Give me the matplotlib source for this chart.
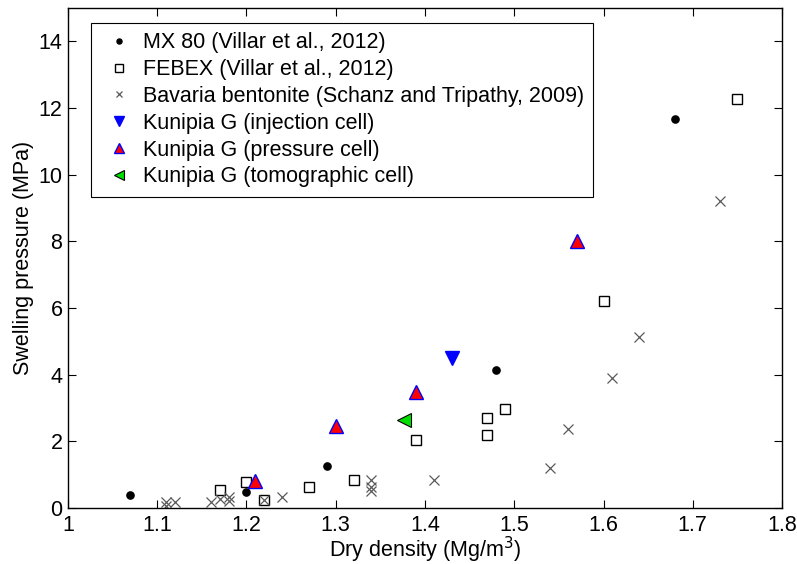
import matplotlib.pyplot as plt

plt.rcParams['font.family'] = ['Liberation Sans', 'DejaVu Sans']

# MX 80 (Villar et al., 2012)
mx80_rho = [1.07, 1.20, 1.29, 1.48, 1.68]
mx80_p = [0.38, 0.47, 1.27, 4.15, 11.67]

# FEBEX (Villar et al., 2012)
febex_rho = [1.17, 1.20, 1.22, 1.27, 1.32, 1.39, 1.47, 1.47, 1.49, 1.60, 1.75]
febex_p = [0.54, 0.78, 0.24, 0.63, 0.84, 2.03, 2.71, 2.20, 2.96, 6.20, 12.27]

# Bavaria bentonite (Schanz and Tripathy, 2009)
bav_rho = [1.11, 1.11, 1.12, 1.16, 1.17, 1.18, 1.18, 1.22, 1.24,
           1.34, 1.34, 1.34, 1.41, 1.54, 1.56, 1.61, 1.64, 1.73]
bav_p = [0.06, 0.18, 0.17, 0.18, 0.28, 0.22, 0.32, 0.24, 0.33,
         0.52, 0.64, 0.83, 0.84, 1.20, 2.38, 3.90, 5.13, 9.22]

# Kunipia G
inj_rho = [1.43]
inj_p = [4.50]
pres_rho = [1.21, 1.30, 1.39, 1.57]
pres_p = [0.82, 2.45, 3.49, 8.00]
tomo_rho = [1.377]
tomo_p = [2.65]

fs = 15.5

fig = plt.figure(figsize=(7.97, 5.64), dpi=100)
ax = fig.add_axes([0.0853, 0.0993, 0.8959, 0.8865])

ax.plot(mx80_rho, mx80_p, 'o', color='k', ms=5.2, ls='none',
        label='MX 80 (Villar et al., 2012)')
ax.plot(febex_rho, febex_p, 's', mfc='none', mec='k', ms=7.8, mew=1.0, ls='none',
        label='FEBEX (Villar et al., 2012)')
ax.plot(bav_rho, bav_p, 'x', color='0.35', ms=7, mew=0.9, ls='none',
        label='Bavaria bentonite (Schanz and Tripathy, 2009)')
ax.plot(inj_rho, inj_p, 'v', mfc='blue', mec='blue', ms=10.5, ls='none',
        label='Kunipia G (injection cell)')
ax.plot(pres_rho, pres_p, '^', mfc='red', mec='blue', ms=10.5, mew=1.0, ls='none',
        label='Kunipia G (pressure cell)')
ax.plot(tomo_rho, tomo_p, '<', mfc='#00e000', mec='k', ms=10.5, mew=0.8, ls='none',
        label='Kunipia G (tomographic cell)')

ax.set_xlim(1, 1.8)
ax.set_ylim(0, 15)
ax.set_xticks([1, 1.1, 1.2, 1.3, 1.4, 1.5, 1.6, 1.7, 1.8])
ax.set_xticklabels(['1', '1.1', '1.2', '1.3', '1.4', '1.5', '1.6', '1.7', '1.8'])
ax.set_yticks(range(0, 15, 2))
ax.tick_params(direction='in', top=True, right=True, length=5.5, width=0.8,
               labelsize=fs)
ax.tick_params(axis='x', pad=5)
ax.tick_params(axis='y', pad=4)
for s in ax.spines.values():
    s.set_linewidth(1.0)

ax.set_xlabel('Dry density (Mg/m$^3$)', fontsize=fs, labelpad=-1)
ax.set_ylabel('Swelling pressure (MPa)', fontsize=fs, labelpad=3)

leg = ax.legend(loc='upper left', bbox_to_anchor=(0.032, 0.97), fontsize=fs,
                frameon=True, fancybox=False, edgecolor='k', framealpha=1,
                handlelength=1.75, handletextpad=0.24, labelspacing=0.27,
                borderpad=0.43, borderaxespad=0, markerscale=0.7)
leg.get_frame().set_linewidth(0.8)

fig.savefig('out.png', dpi=100)
